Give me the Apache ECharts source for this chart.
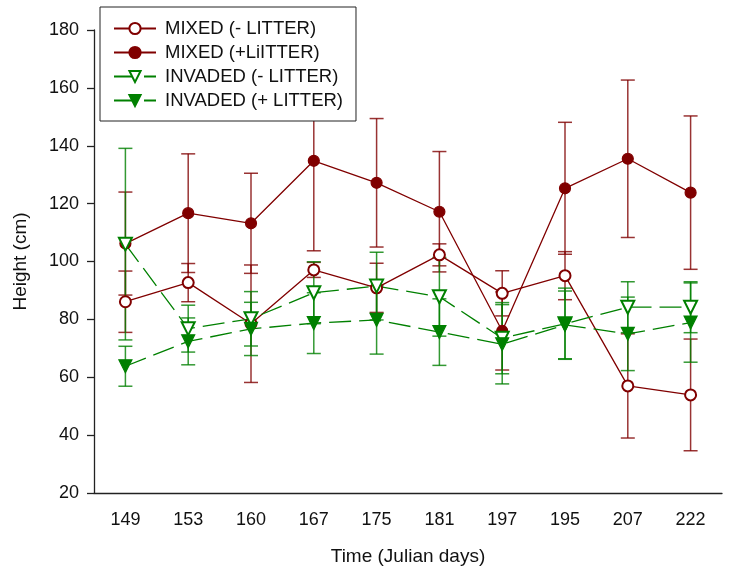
<!DOCTYPE html>
<html>
<head>
<meta charset="utf-8">
<script src="https://cdn.jsdelivr.net/npm/echarts@6/dist/echarts.min.js"></script>
<style>html,body{margin:0;padding:0;background:#fff}#c{width:743px;height:573px}</style>
</head>
<body>
<div id="c"></div>
<script>
var categories = ['149','153','160','167','175','181','197','195','207','222'];
var yTicks = [20, 40, 60, 80, 100, 120, 140, 160, 180];

var mixedMinus    = [86.1, 92.7, 78.5, 97.1, 90.9, 102.3, 89.0, 95.1, 57.0, 53.9];
var mixedMinusErr = [10.6, 6.6, 20.3, 2.6, 8.5, 3.8, 7.8, 8.3, 18.0, 19.3];
var mixedPlus     = [106.2, 116.7, 113.2, 134.8, 127.2, 117.2, 76.0, 125.3, 135.5, 123.8];
var mixedPlusErr  = [17.8, 20.5, 17.3, 31.1, 22.2, 20.8, 13.5, 22.8, 27.2, 26.5];
var invMinus      = [106.0, 76.8, 80.2, 89.2, 91.5, 87.8, 73.5, 78.5, 84.2, 84.2];
var invMinusErr   = [33.1, 8.1, 9.4, 10.7, 11.7, 13.6, 12.3, 12.3, 8.8, 8.8];
var invPlus       = [63.8, 72.4, 76.7, 78.7, 79.8, 75.6, 71.4, 78.1, 75.0, 78.9];
var invPlusErr    = [6.9, 8.1, 9.2, 10.5, 11.8, 11.5, 13.7, 11.7, 12.7, 13.7];

var names = ['MIXED (- LITTER)', 'MIXED (+LiITTER)', 'INVADED (- LITTER)', 'INVADED (+ LITTER)'];
var RED = '#800000', GREEN = '#008000';
var FONT = 'Liberation Sans, Arial, sans-serif';

function errData(mean, err) {
  return mean.map(function (m, i) { return [i, m - err[i], m + err[i]]; });
}
function errSeries(id, mean, err, color) {
  return {
    type: 'custom', name: id, z: 1,
    data: errData(mean, err),
    encode: { x: 0, y: [1, 2] },
    renderItem: function (params, api) {
      var lo = api.coord([api.value(0), api.value(1)]);
      var hi = api.coord([api.value(0), api.value(2)]);
      var hw = 7;
      var st = { stroke: color, lineWidth: 1.5, opacity: 0.8 };
      return { type: 'group', children: [
        { type: 'line', shape: { x1: hi[0], y1: hi[1], x2: lo[0], y2: lo[1] }, style: st },
        { type: 'line', shape: { x1: hi[0] - hw, y1: hi[1], x2: hi[0] + hw, y2: hi[1] }, style: st },
        { type: 'line', shape: { x1: lo[0] - hw, y1: lo[1], x2: lo[0] + hw, y2: lo[1] }, style: st }
      ]};
    }
  };
}
function lineSeries(name, data, color, symbol, size, dashed, rotate) {
  return {
    type: 'line', name: name, data: data, z: 3,
    symbol: symbol, symbolSize: size, symbolRotate: rotate || 0,
    showAllSymbol: true,
    lineStyle: { color: color, width: 1.3, type: dashed ? [22, 8] : 'solid' },
    itemStyle: { color: color, borderColor: color, borderWidth: 1.2 },
    emphasis: { disabled: true },
    animation: false
  };
}

var chart = echarts.init(document.getElementById('c'));
chart.setOption({
  backgroundColor: '#fff',
  animation: false,
  textStyle: { fontFamily: FONT },
  grid: { left: 94, right: 21, top: 30, bottom: 80 },
  legend: {
    data: names,
    orient: 'vertical',
    left: 100, top: 7,
    padding: [12, 13, 11, 13],
    itemWidth: 42, itemHeight: 14, itemGap: 5,
    backgroundColor: '#fff',
    borderColor: '#222', borderWidth: 1,
    textStyle: { fontSize: 18.5, color: '#111', fontFamily: FONT, padding: [0, 0, 0, 4] },
    selectedMode: false
  },
  xAxis: {
    type: 'category', data: categories, boundaryGap: true,
    name: 'Time (Julian days)', nameLocation: 'middle', nameGap: 54,
    nameTextStyle: { fontSize: 19, color: '#111', fontFamily: FONT },
    axisLine: { lineStyle: { color: '#222', width: 1.3 } },
    axisTick: { alignWithLabel: true, length: 6, lineStyle: { color: '#222', width: 1.3 } },
    axisLabel: { fontSize: 18, color: '#111', margin: 18, fontFamily: FONT },
    splitLine: { show: false }
  },
  yAxis: {
    type: 'value', min: yTicks[0], max: yTicks[yTicks.length - 1], interval: 20,
    name: 'Height (cm)', nameLocation: 'middle', nameGap: 64,
    nameTextStyle: { fontSize: 19, color: '#111', fontFamily: FONT },
    axisLine: { show: true, lineStyle: { color: '#222', width: 1.3 } },
    axisTick: { show: true, length: 7, lineStyle: { color: '#222', width: 1.3 } },
    axisLabel: { fontSize: 18, color: '#111', margin: 15, fontFamily: FONT },
    splitLine: { show: false }
  },
  series: [
    errSeries('e1', mixedMinus, mixedMinusErr, RED),
    errSeries('e2', mixedPlus, mixedPlusErr, RED),
    errSeries('e3', invMinus, invMinusErr, GREEN),
    errSeries('e4', invPlus, invPlusErr, GREEN),
    lineSeries(names[0], mixedMinus, RED, 'emptyCircle', 11, false),
    lineSeries(names[1], mixedPlus, RED, 'circle', 11, false),
    lineSeries(names[2], invMinus, GREEN, 'emptyTriangle', 13, true, 180),
    lineSeries(names[3], invPlus, GREEN, 'triangle', 13, true, 180)
  ]
});
</script>
</body>
</html>
